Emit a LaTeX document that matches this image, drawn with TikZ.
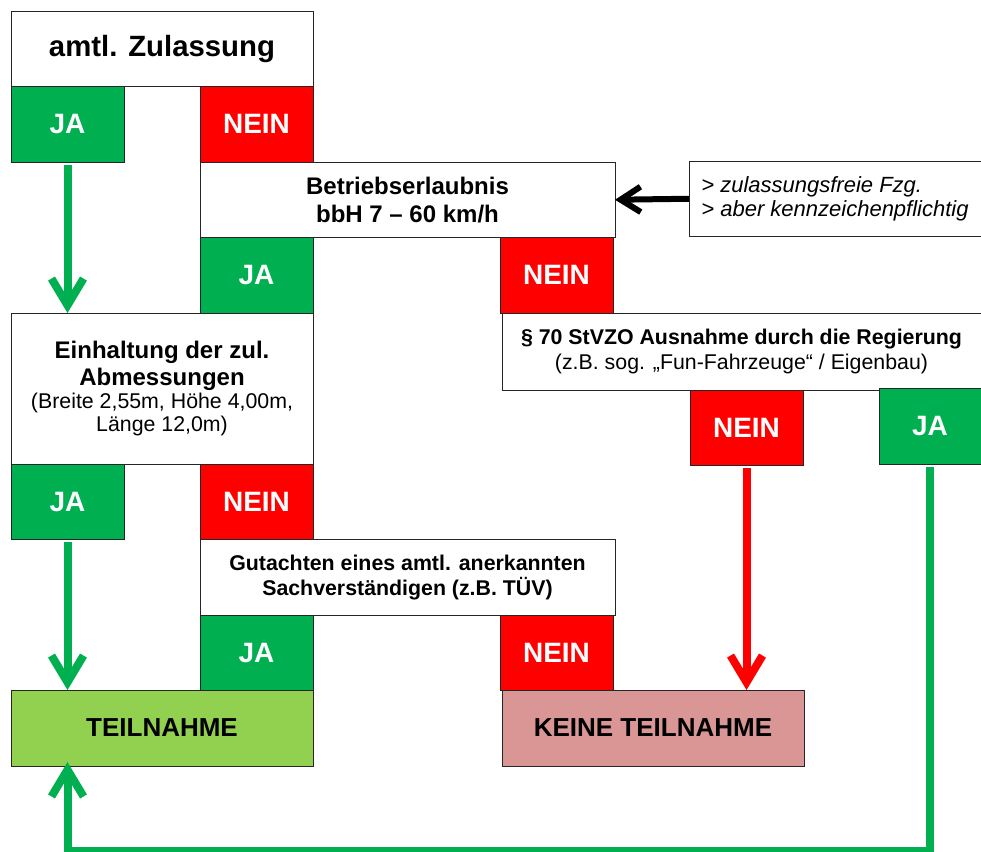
\documentclass[tikz,border=0pt]{standalone}
\usepackage{fontspec}
\setmainfont{Liberation Sans}
\usetikzlibrary{arrows.meta}
\definecolor{jagreen}{RGB}{0,176,80}
\definecolor{neinred}{RGB}{255,0,0}
\definecolor{teilgreen}{RGB}{146,208,80}
\definecolor{keinerose}{RGB}{217,150,148}
\begin{document}
\begin{tikzpicture}[x=0.75pt,y=-0.75pt,
	box/.style={draw=black!85,line width=0.75pt,fill=white,anchor=north west,
		inner sep=0pt,outer sep=0pt,align=center,minimum height=56.625pt},
	ja/.style={box,fill=jagreen,text=white,minimum width=84.75pt,
		font=\fontsize{21}{24}\selectfont\bfseries},
	nein/.style={ja,fill=neinred},
	ende/.style={box,minimum width=226.5pt,minimum height=57pt,
		font=\fontsize{19.5}{22}\selectfont\bfseries},
	pfeil/.style={line width=6pt,-{Straight Barb[length=20pt,width=24pt]}},
	jaweg/.style={pfeil,draw=jagreen},
	neinweg/.style={pfeil,draw=neinred}]
	\useasboundingbox (0,0) rectangle (981,851);
	% erste Frage
	\node[box,minimum width=226.5pt,font=\fontsize{22}{25}\selectfont\bfseries] (zul) at (11,11) {amtl. Zulassung};
	\node[ja] (zulja) at (11,86.5) {JA};
	\node[nein] (zulnein) at (200,86.5) {NEIN};
	% Betriebserlaubnis
	\node[box,minimum width=311.25pt,font=\fontsize{18}{21}\selectfont\bfseries] (betr) at (200,162)
		{Betriebserlaubnis\\bbH 7 – 60 km/h};
	\node[box,minimum width=219pt,align=left,font=\fontsize{16.5}{18}\selectfont\itshape] (hint) at (689,161)
		{> zulassungsfreie Fzg.\\> aber kennzeichenpflichtig};
	\node[ja] (betrja) at (200,237.5) {JA};
	\node[nein] (betrnein) at (500,237.5) {NEIN};
	% Abmessungen
	\node[box,minimum width=226.5pt,minimum height=113.25pt] (mass) at (11,313)
		{\fontsize{18}{20}\selectfont\bfseries Einhaltung der zul.\\[2pt]
		 \fontsize{18}{20}\selectfont\bfseries Abmessungen\\[1pt]
		 \fontsize{16}{18}\selectfont (Breite 2,55m, Höhe 4,00m,\\[1pt]
		 \fontsize{16}{18}\selectfont Länge 12,0m)};
	\node[ja] (massja) at (11,464) {JA};
	\node[nein] (massnein) at (200,464) {NEIN};
	% Ausnahme
	\node[box,minimum width=359.25pt,minimum height=57.75pt] (ausn) at (502,313)
		{\fontsize{16}{18}\selectfont\bfseries § 70 StVZO Ausnahme durch die Regierung\\[3pt]
		 \fontsize{16}{18}\selectfont (z.B. sog. „Fun-Fahrzeuge“ / Eigenbau)};
	\node[nein] (ausnnein) at (690,390) {NEIN};
	\node[ja,minimum width=76.5pt] (ausnja) at (879,388.5) {JA};
	% Gutachten
	\node[box,minimum width=311.25pt,font=\fontsize{16}{19}\selectfont\bfseries] (gut) at (200,539.5)
		{Gutachten eines amtl. anerkannten\\Sachverständigen (z.B. TÜV)};
	\node[ja] (gutja) at (200,615) {JA};
	\node[nein] (gutnein) at (500,615) {NEIN};
	% Ergebnis
	\node[ende,fill=teilgreen] (teil) at (11,690) {TEILNAHME};
	\node[ende,fill=keinerose] (keine) at (502,690) {KEINE TEILNAHME};
	\coordinate (unten) at (67.5,851);

	\draw[line width=4.5pt,-{Straight Barb[length=15pt,width=19pt]}] (hint.west) -- (betr.east);
	\draw[jaweg,shorten <=2pt] (zulja.south) -- (mass.north -| zulja.south);
	\draw[jaweg,shorten <=2pt] (massja.south) -- (teil.north -| massja.south);
	\draw[neinweg,shorten <=2pt] (ausnnein.south) -- (keine.north -| ausnnein.south);
	\draw[jaweg,shorten <=2pt,shorten >=-3pt] (ausnja.south) |- (unten) -- (teil.south -| unten);
\end{tikzpicture}
\end{document}
